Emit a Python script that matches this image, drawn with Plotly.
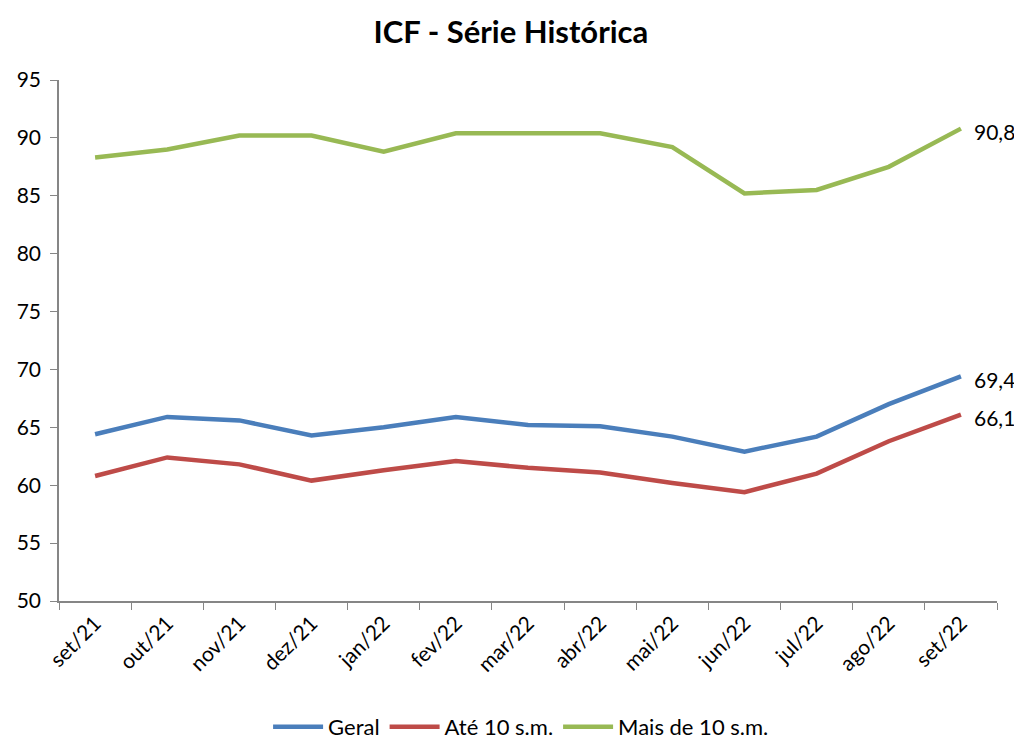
import plotly.graph_objects as go

months = ["set/21", "out/21", "nov/21", "dez/21", "jan/22", "fev/22", "mar/22",
          "abr/22", "mai/22", "jun/22", "jul/22", "ago/22", "set/22"]
geral = [64.4, 65.9, 65.6, 64.3, 65.0, 65.9, 65.2, 65.1, 64.2, 62.9, 64.2, 67.0, 69.4]
ate10 = [60.8, 62.4, 61.8, 60.4, 61.3, 62.1, 61.5, 61.1, 60.2, 59.4, 61.0, 63.8, 66.1]
mais10 = [88.3, 89.0, 90.2, 90.2, 88.8, 90.4, 90.4, 90.4, 89.2, 85.2, 85.5, 87.5, 90.8]

series = [("Geral", geral, "#4a7ebb"),
          ("Até 10 s.m.", ate10, "#be4b48"),
          ("Mais de 10 s.m.", mais10, "#98b954")]

FONT = "Lato, sans-serif"
# page body has an 8px default margin; figure is sized to fit the 1022x740 window
W, H = 1014, 732

fig = go.Figure()
for name, vals, color in series:
    fig.add_trace(go.Scatter(
        x=months, y=vals, name=name, mode="lines",
        line=dict(color=color, width=4.5),
    ))
    fig.add_annotation(
        x=months[-1], y=vals[-1], xref="x", yref="y",
        text=f"{vals[-1]:.1f}".replace(".", ","),
        showarrow=False, xanchor="left", yanchor="middle", xshift=11, yshift=-3,
        font=dict(family=FONT, size=21, color="#000000"),
    )

fig.update_layout(
    width=W, height=H,
    paper_bgcolor="white", plot_bgcolor="white",
    margin=dict(l=51, r=25, t=72, b=139),
    separators=",.",
    title=dict(text="<b>ICF - Série Histórica</b>", x=0.496, xanchor="center",
               xref="container", y=1 - 24 / H, yref="container", yanchor="middle",
               font=dict(family=FONT, size=31, color="#000000")),
    font=dict(family=FONT, size=21, color="#000000"),
    showlegend=True,
    legend=dict(orientation="h", xref="container", yref="container",
                x=0.506, xanchor="center", y=1 - 719 / H, yanchor="middle",
                font=dict(family=FONT, size=22), itemwidth=50, tracegroupgap=0),
    xaxis=dict(type="category", range=[-0.5, 12.5], showgrid=False, showline=True,
               linecolor="#868686", linewidth=1.5, ticks="outside",
               tickson="boundaries", ticklen=7, tickcolor="#868686",
               tickangle=-45, automargin=False,
               tickfont=dict(family=FONT, size=21)),
    yaxis=dict(range=[50, 95], dtick=5, showgrid=False, showline=True,
               linecolor="#868686", linewidth=1.5, ticks="outside", ticklen=7,
               tickcolor="#868686", zeroline=False, automargin=False,
               ticklabelstandoff=5,
               tickfont=dict(family=FONT, size=21)),
)

fig.write_html("out.html")
